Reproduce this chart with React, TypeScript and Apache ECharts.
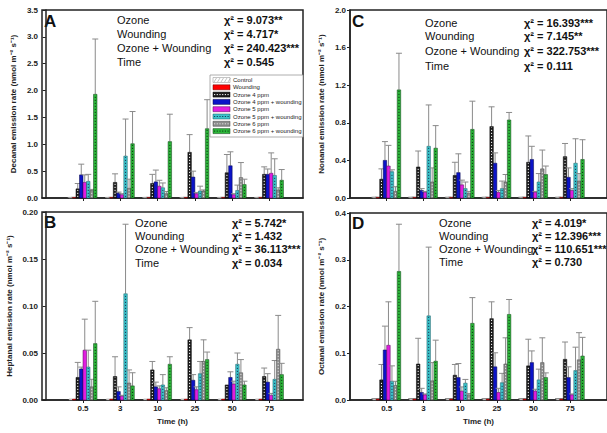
import React, { useEffect, useRef } from "react";
import * as echarts from "echarts";

const timeLabels = ["0.5", "3", "10", "25", "50", "75"];
const treatments = [
  "Control",
  "Wounding",
  "Ozone 4 ppm",
  "Ozone 4 ppm + wounding",
  "Ozone 5 ppm",
  "Ozone 5 ppm + wounding",
  "Ozone 6 ppm",
  "Ozone 6 ppm + wounding",
];

// Decanal (A): rows = treatments, cols = time points
const decanalMean = [
  [0.005, 0.005, 0.005, 0.005, 0.005, 0.005],
  [0.008, 0.008, 0.008, 0.008, 0.008, 0.008],
  [0.17, 0.29, 0.27, 0.85, 0.47, 0.44],
  [0.43, 0.09, 0.3, 0.39, 0.6, 0.44],
  [0.29, 0.06, 0.22, 0.08, 0.06, 0.46],
  [0.31, 0.78, 0.19, 0.13, 0.14, 0.42],
  [0.14, 0.18, 0.08, 0.13, 0.38, 0.15],
  [1.93, 1.01, 1.05, 1.29, 0.25, 0.33],
];
const decanalUpper = [
  [0.01, 0.01, 0.01, 0.01, 0.01, 0.01],
  [0.012, 0.012, 0.012, 0.012, 0.012, 0.012],
  [0.27, 0.45, 0.44, 1.18, 0.81, 0.58],
  [0.63, 0.11, 0.52, 0.5, 0.86, 0.54],
  [0.43, 0.08, 0.33, 0.1, 0.08, 0.84],
  [0.44, 1.47, 0.28, 0.22, 0.24, 0.73],
  [0.16, 0.35, 0.12, 0.15, 0.66, 0.19],
  [2.96, 1.61, 1.56, 1.83, 0.35, 0.53],
];

// Heptanal (B)
const heptanalMean = [
  [0.001, 0.001, 0.001, 0.001, 0.001, 0.001],
  [0.001, 0.001, 0.001, 0.001, 0.001, 0.001],
  [0.024, 0.025, 0.032, 0.064, 0.016, 0.025],
  [0.033, 0.009, 0.014, 0.021, 0.024, 0.019],
  [0.053, 0.004, 0.012, 0.011, 0.017, 0.005],
  [0.035, 0.113, 0.016, 0.028, 0.038, 0.022],
  [0.014, 0.018, 0.01, 0.041, 0.029, 0.054],
  [0.06, 0.015, 0.038, 0.043, 0.016, 0.027],
];
const heptanalUpper = [
  [0.001, 0.001, 0.001, 0.001, 0.001, 0.001],
  [0.001, 0.001, 0.001, 0.001, 0.001, 0.001],
  [0.04, 0.046, 0.041, 0.077, 0.016, 0.034],
  [0.035, 0.014, 0.019, 0.027, 0.03, 0.028],
  [0.086, 0.005, 0.015, 0.014, 0.02, 0.007],
  [0.053, 0.187, 0.027, 0.041, 0.05, 0.042],
  [0.022, 0.032, 0.013, 0.064, 0.043, 0.09],
  [0.105, 0.029, 0.046, 0.051, 0.02, 0.039],
];

// Nonanal (C)
const nonanalMean = [
  [0.005, 0.005, 0.005, 0.005, 0.005, 0.005],
  [0.005, 0.005, 0.005, 0.005, 0.005, 0.005],
  [0.2, 0.33, 0.24, 0.76, 0.38, 0.44],
  [0.4, 0.08, 0.27, 0.37, 0.41, 0.22],
  [0.34, 0.06, 0.14, 0.06, 0.06, 0.08],
  [0.28, 0.55, 0.1, 0.1, 0.17, 0.37],
  [0.07, 0.17, 0.05, 0.17, 0.31, 0.18],
  [1.15, 0.53, 0.73, 0.83, 0.25, 0.41],
];
const nonanalUpper = [
  [0.008, 0.008, 0.008, 0.008, 0.008, 0.008],
  [0.008, 0.008, 0.008, 0.008, 0.008, 0.008],
  [0.31, 0.5, 0.38, 0.97, 0.66, 0.58],
  [0.6, 0.1, 0.47, 0.48, 0.55, 0.32],
  [0.56, 0.07, 0.19, 0.08, 0.07, 0.1],
  [0.3, 0.99, 0.17, 0.18, 0.26, 0.63],
  [0.12, 0.32, 0.07, 0.25, 0.51, 0.26],
  [1.54, 0.77, 1.03, 0.91, 0.34, 0.62],
];

// Octanal (D)
const octanalMean = [
  [0.002, 0.002, 0.002, 0.002, 0.002, 0.002],
  [0.002, 0.002, 0.002, 0.002, 0.002, 0.002],
  [0.043, 0.077, 0.053, 0.174, 0.073, 0.087],
  [0.107, 0.016, 0.048, 0.071, 0.08, 0.048],
  [0.117, 0.011, 0.019, 0.016, 0.019, 0.011],
  [0.04, 0.18, 0.036, 0.037, 0.043, 0.063],
  [0.031, 0.041, 0.011, 0.077, 0.08, 0.086],
  [0.275, 0.083, 0.164, 0.183, 0.048, 0.094],
];
const octanalUpper = [
  [0.003, 0.003, 0.003, 0.003, 0.003, 0.003],
  [0.003, 0.003, 0.003, 0.003, 0.003, 0.003],
  [0.076, 0.132, 0.076, 0.21, 0.13, 0.124],
  [0.158, 0.025, 0.078, 0.101, 0.105, 0.071],
  [0.21, 0.013, 0.028, 0.025, 0.023, 0.013],
  [0.073, 0.327, 0.044, 0.057, 0.066, 0.113],
  [0.04, 0.08, 0.014, 0.133, 0.133, 0.144],
  [0.376, 0.128, 0.219, 0.215, 0.058, 0.134],
];

const statLabels = ["Ozone", "Wounding", "Ozone + Wounding", "Time"];
const decanalChi = ["χ² = 9.073**", "χ² = 4.717*", "χ² = 240.423***", "χ² = 0.545"];
const heptanalChi = ["χ² = 5.742*", "χ² = 1.432", "χ² = 36.113***", "χ² = 0.034"];
const nonanalChi = ["χ² = 16.393***", "χ² = 7.145**", "χ² = 322.753***", "χ² = 0.111"];
const octanalChi = ["χ² = 4.019*", "χ² = 12.396***", "χ² = 110.651***", "χ² = 0.730"];

const yTitles = [
  "Decanal emission rate (nmol m⁻² s⁻¹)",
  "Heptanal emission rate (nmol m⁻² s⁻¹)",
  "Nonanal emission rate (nmol m⁻² s⁻¹)",
  "Octanal emission rate (nmol m⁻² s⁻¹)",
];

// styles
const FONT = '"Liberation Sans", Arial, sans-serif';
const fills = ["#ffffff", "#ff0000", "#1c1c1c", "#0c14c8", "#e01ee0", "#3cc4cc", "#8c8c8c", "#2cb83a"];
const dotColors = [null, null, "#ffffff", null, null, "#163c5a", "#e0e0e0", "#0c3c12"];
const strokes = ["#888888", "#660000", "#000000", "#000044", "#550055", "#1a5a60", "#444444", "#0c3c12"];

const panels = [
  { key: "A", mean: decanalMean, upper: decanalUpper, chi: decanalChi, max: 3.5, step: 0.5, dec: 1, xmin: -0.1,
    grid: { left: 42, top: 10, width: 261, height: 188 }, nameGap: 25, showX: false,
    labX: 117, chiX: 224, rows: [20, 34, 48, 62], letter: [44, 21] },
  { key: "B", mean: heptanalMean, upper: heptanalUpper, chi: heptanalChi, max: 0.2, step: 0.05, dec: 2, xmin: -0.1,
    grid: { left: 42, top: 212, width: 261, height: 188 }, nameGap: 29, showX: true,
    labX: 135, chiX: 232, rows: [223, 236, 249, 263], letter: [44, 222] },
  { key: "C", mean: nonanalMean, upper: nonanalUpper, chi: nonanalChi, max: 2.0, step: 0.4, dec: 1, xmin: 0,
    grid: { left: 350, top: 10, width: 261, height: 188 }, nameGap: 25, showX: false,
    labX: 425, chiX: 524, rows: [23, 36, 51, 66], letter: [352, 21] },
  { key: "D", mean: octanalMean, upper: octanalUpper, chi: octanalChi, max: 0.4, step: 0.1, dec: 1, xmin: 0,
    grid: { left: 350, top: 213, width: 261, height: 187 }, nameGap: 25, showX: true,
    labX: 439, chiX: 532, rows: [223, 236, 249, 262], letter: [352, 223] },
];

const BW = 3.5;
const tickPos = [1, 2, 3, 4, 5, 6];

function makeRender(ti: number) {
  return (params: any, api: any) => {
    const x = api.value(0);
    const v = api.value(1);
    const up = api.value(2);
    const base = api.coord([x, 0]);
    const top = api.coord([x, v]);
    const et = api.coord([x, up]);
    const x0 = base[0] + (ti - 4) * BW;
    const cx = x0 + BW / 2;
    const h = Math.max(base[1] - top[1], 0.6);
    const children: any[] = [];
    if (up > v) {
      children.push({ type: "line", shape: { x1: cx, y1: top[1], x2: cx, y2: et[1] }, style: { stroke: "#8a8a8a", lineWidth: 1 } });
      children.push({ type: "line", shape: { x1: cx - 3, y1: et[1], x2: cx + 3, y2: et[1] }, style: { stroke: "#8a8a8a", lineWidth: 1 } });
    }
    children.push({
      type: "rect",
      shape: { x: x0, y: base[1] - h, width: BW, height: h },
      style: { fill: fills[ti], stroke: strokes[ti], lineWidth: 0.5 },
    });
    const dc = dotColors[ti];
    if (dc && h > 2) {
      children.push({
        type: "line",
        shape: { x1: cx, y1: base[1] - 1, x2: cx, y2: base[1] - h + 1 },
        style: { stroke: dc, lineWidth: 1, lineDash: [1.2, 1.8] },
      });
    }
    return { type: "group", children };
  };
}

export default function App() {
  const ref = useRef<HTMLDivElement>(null);
  useEffect(() => {
    if (!ref.current) return;
    const chart = echarts.init(ref.current, null, { renderer: "svg" });

    const grid: any[] = [];
    const xAxis: any[] = [];
    const yAxis: any[] = [];
    const series: any[] = [];
    const graphic: any[] = [];

    panels.forEach((p, pi) => {
      grid.push({ ...p.grid, show: true, borderColor: "#222", borderWidth: 1.5, backgroundColor: "transparent" });
      xAxis.push({
        type: "value",
        gridIndex: pi,
        min: p.xmin,
        max: p.xmin + 7,
        splitLine: { show: false },
        axisLine: { show: true, lineStyle: { color: "#222", width: 1.5 } },
        axisTick: { show: true, customValues: tickPos, length: 3, lineStyle: { color: "#222" } },
        axisLabel: {
          show: p.showX,
          customValues: tickPos,
          formatter: (val: number) => timeLabels[Math.round(val) - 1] ?? "",
          fontFamily: FONT,
          fontWeight: "bold",
          fontSize: 8,
          color: "#222",
          margin: 4,
        },
        name: p.showX ? "Time (h)" : "",
        nameLocation: "middle",
        nameGap: 17,
        nameTextStyle: { fontFamily: FONT, fontWeight: "bold", fontSize: 8, color: "#222" },
      });
      yAxis.push({
        type: "value",
        gridIndex: pi,
        min: 0,
        max: p.max,
        interval: p.step,
        splitLine: { show: false },
        axisLine: { show: true, lineStyle: { color: "#222", width: 1.5 } },
        axisTick: { show: true, length: 3, lineStyle: { color: "#222" } },
        axisLabel: {
          formatter: (val: number) => val.toFixed(p.dec),
          fontFamily: FONT,
          fontWeight: "bold",
          fontSize: 8,
          color: "#222",
          margin: 4,
        },
        name: yTitles[pi],
        nameLocation: "middle",
        nameGap: p.nameGap,
        nameTextStyle: { fontFamily: FONT, fontWeight: "bold", fontSize: 8, color: "#222" },
      });
      for (let ti = 0; ti < treatments.length; ti++) {
        series.push({
          type: "custom",
          name: treatments[ti],
          xAxisIndex: pi,
          yAxisIndex: pi,
          renderItem: makeRender(ti),
          data: timeLabels.map((_, k) => [tickPos[k], p.mean[ti][k], p.upper[ti][k]]),
        });
      }
      graphic.push({
        type: "text",
        x: p.letter[0],
        y: p.letter[1],
        style: { text: p.key, fontFamily: FONT, fontWeight: "bold", fontSize: 17, fill: "#111", verticalAlign: "middle" },
      });
      statLabels.forEach((lab, r) => {
        graphic.push({
          type: "text",
          x: p.labX,
          y: p.rows[r],
          style: { text: lab, fontFamily: FONT, fontSize: 11, fill: "#111", verticalAlign: "middle" },
        });
        graphic.push({
          type: "text",
          x: p.chiX,
          y: p.rows[r],
          style: { text: p.chi[r], fontFamily: FONT, fontWeight: "bold", fontSize: 11, fill: "#111", verticalAlign: "middle" },
        });
      });
    });

    // legend in panel A
    const lx = 210, ly = 75, rowH = 7.3;
    graphic.push({
      type: "rect",
      shape: { x: lx, y: ly, width: 93, height: 62 },
      style: { fill: "#ffffff", stroke: "#999", lineWidth: 0.8 },
    });
    treatments.forEach((t, ti) => {
      const cy = ly + 5 + ti * rowH;
      graphic.push({
        type: "rect",
        shape: { x: lx + 3, y: cy - 2.5, width: 17, height: 5 },
        style: { fill: fills[ti], stroke: strokes[ti], lineWidth: 0.5 },
      });
      const dc = dotColors[ti];
      if (dc) {
        graphic.push({
          type: "line",
          shape: { x1: lx + 4, y1: cy, x2: lx + 19, y2: cy },
          style: { stroke: dc, lineWidth: 1, lineDash: [1.2, 1.5] },
        });
      }
      if (ti === 0) {
        for (let k = 0; k < 5; k++) {
          graphic.push({
            type: "line",
            shape: { x1: lx + 4 + k * 3.5, y1: cy + 2, x2: lx + 6.5 + k * 3.5, y2: cy - 2 },
            style: { stroke: "#999", lineWidth: 0.6 },
          });
        }
      }
      graphic.push({
        type: "text",
        x: lx + 23,
        y: cy,
        style: { text: t, fontFamily: FONT, fontSize: 6, fill: "#222", verticalAlign: "middle" },
      });
    });

    chart.setOption({
      animation: false,
      backgroundColor: "#ffffff",
      grid,
      xAxis,
      yAxis,
      series,
      graphic,
    });
    return () => chart.dispose();
  }, []);

  return (
    <div
      ref={ref}
      style={{ position: "fixed", left: 0, top: 0, width: 607, height: 433 }}
    />
  );
}
